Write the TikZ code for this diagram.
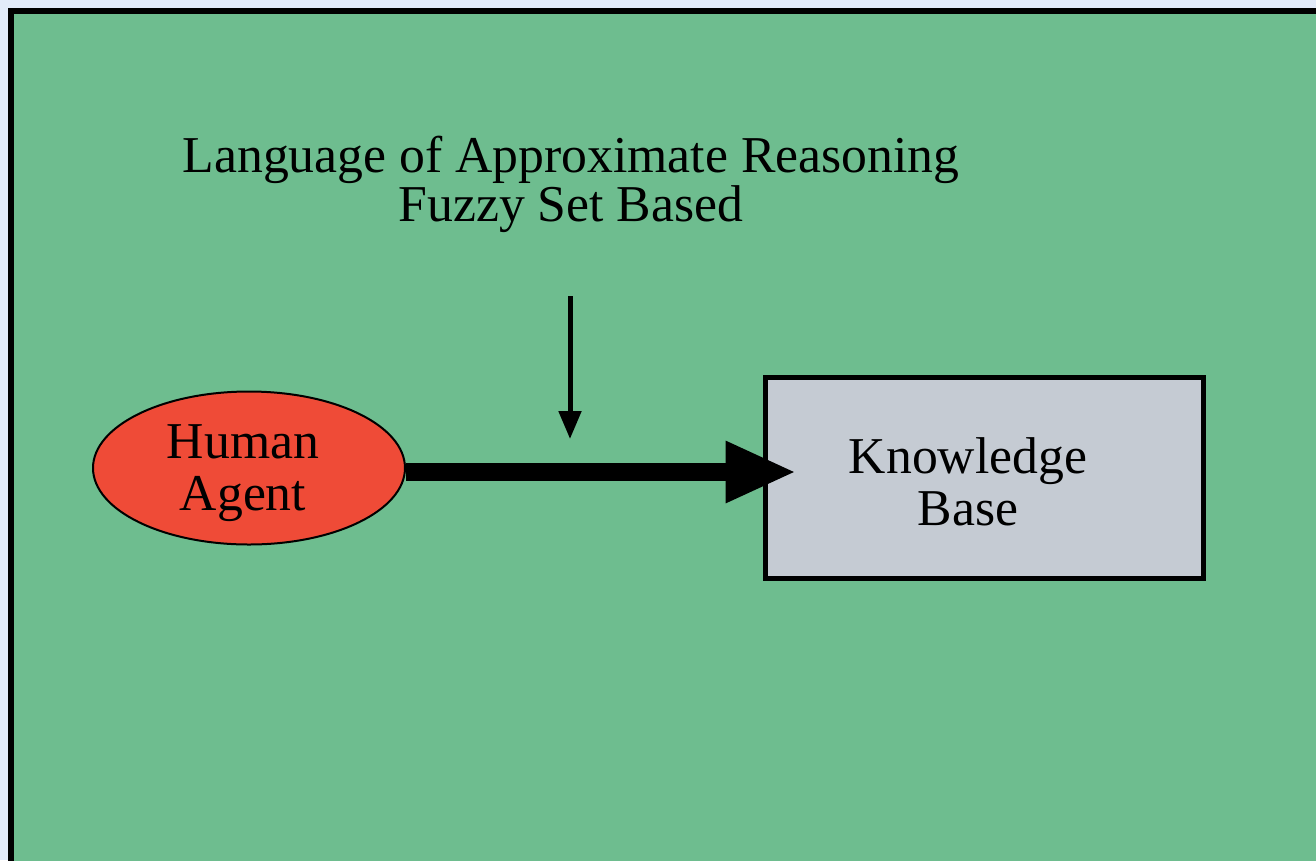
\documentclass[tikz,border=0pt]{standalone}
\usepackage{fontspec}
\setmainfont{Liberation Serif}
\usetikzlibrary{shapes.geometric,arrows.meta}
\definecolor{pagebg}{HTML}{E2EBF9}
\definecolor{panelgreen}{HTML}{6EBD8F}
\definecolor{agentred}{HTML}{EF4B37}
\definecolor{kbgrey}{HTML}{C5CBD3}
\tikzset{
  txt/.style={font=\fontsize{51.7}{52.5}\selectfont, align=center, inner sep=0pt},
  agent/.style={ellipse, draw=black, line width=2pt, fill=agentred,
    minimum width=312pt, minimum height=153pt, inner sep=0pt},
  kbbox/.style={rectangle, draw=black, line width=5pt, fill=kbgrey,
    minimum width=438pt, minimum height=201pt, inner sep=0pt},
  flow/.style={line width=18pt, -{Triangle[length=71pt,width=57pt]}},
  hint/.style={line width=5pt, -{Triangle[length=28pt,width=22pt]}}
}
\begin{document}
\begin{tikzpicture}[x=1pt,y=-1pt]
  % page and panel
  \fill[pagebg] (0,0) rectangle (1316,860);
  \useasboundingbox (0,0) rectangle (1316,860);
  \filldraw[fill=panelgreen, draw=black, line width=6pt] (11,10.5) rectangle (1330,880);

  % title
  \node[txt, font=\fontsize{51.7}{49}\selectfont] (title) at (571,184) {Language of Approximate Reasoning\\Fuzzy Set Based};

  % nodes
  \node[agent] (ha) at (249,468) {};
  \node[txt] (hat) at (243,473) {Human\\Agent};
  \node[kbbox] (kb) at (984,477.5) {};
  \node[txt] (kbt) at (968,482) {Knowledge\\Base};

  % connectors
  \coordinate (hs) at (570,296);
  \coordinate (he) at (570,439);
  \draw[hint] (hs) -- (he);
  \draw[flow] ([yshift=-4pt]ha.east) -- ([xshift=34pt,yshift=5.5pt]kb.west);
\end{tikzpicture}
\end{document}
